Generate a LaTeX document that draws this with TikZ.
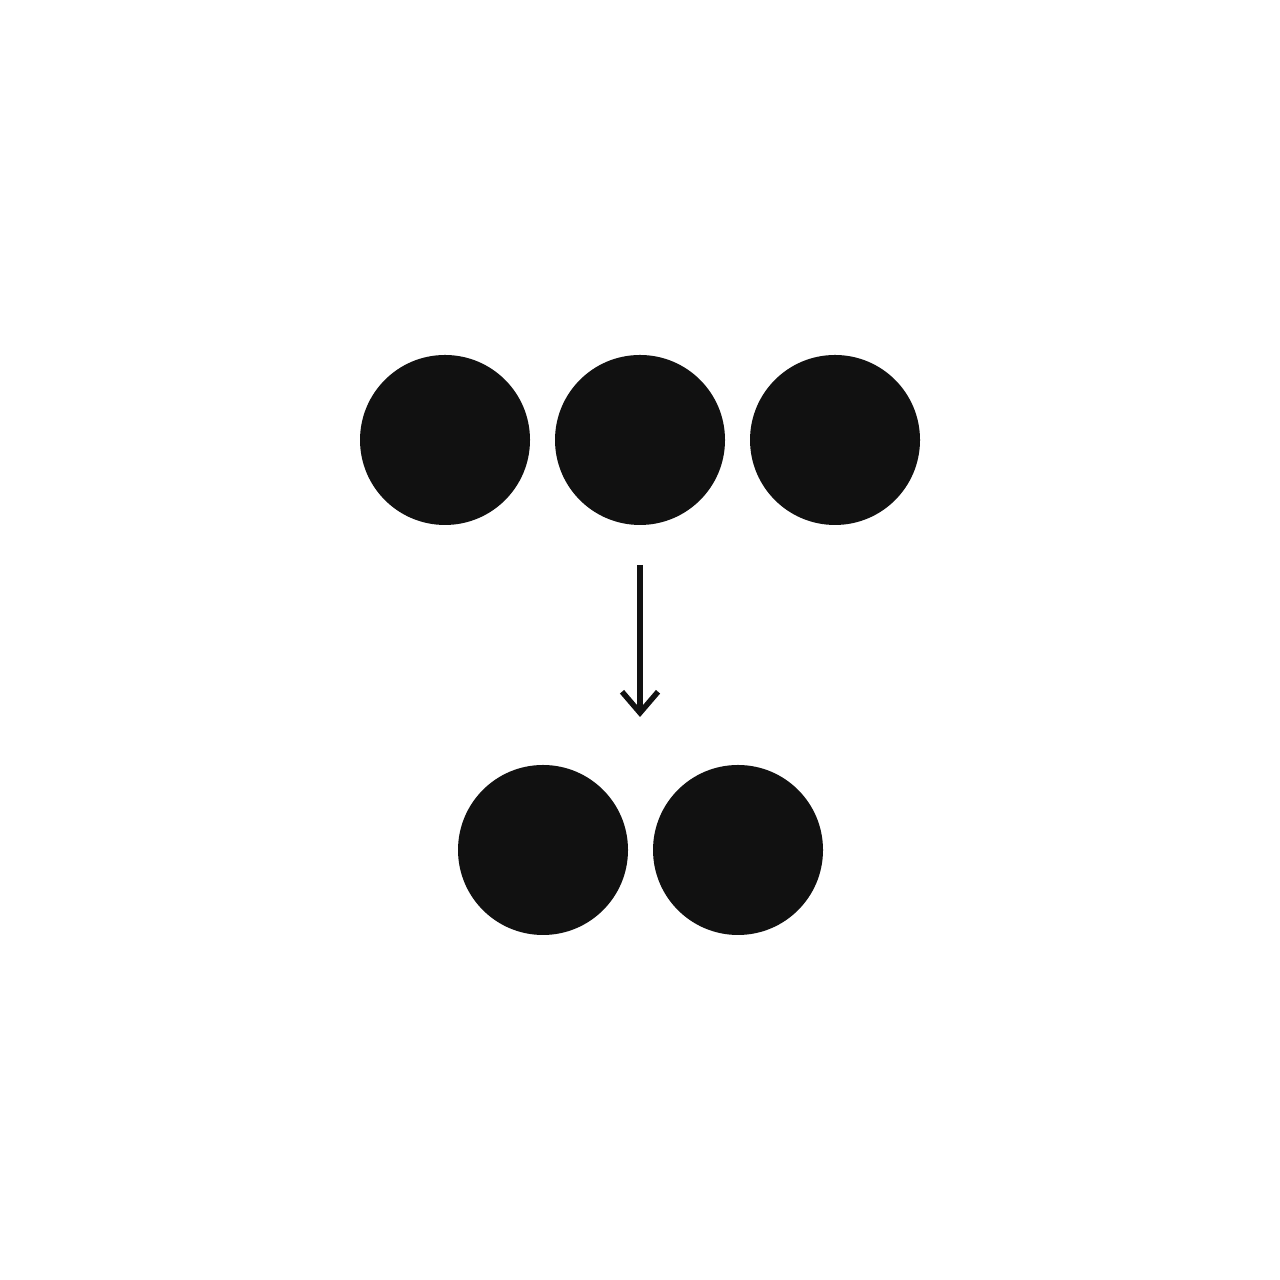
\documentclass[tikz,border=0pt]{standalone}
\usetikzlibrary{arrows.meta}
\definecolor{dotblack}{HTML}{111111}
\begin{document}
\begin{tikzpicture}[x=1cm,y=1cm]
		\begin{scope}[scale=1]
		
		\tikzstyle{mydot}=[circle,
		draw=none,
		fill=dotblack,
		inner sep=0pt,
		minimum size=17mm
		]
		\tikzstyle{myarrow}=[draw=dotblack,
		line width=0.55mm,
		-{Straight Barb[length=2.1mm,width=3.6mm]}
		]
		
		\useasboundingbox[fill=white] (0, 0) rectangle (12.8, 12.8);
		
		\coordinate (pa1) at (4.45, 8.4);
		\coordinate (pa2) at (6.4, 8.4);
		\coordinate (pa3) at (8.35, 8.4);
		
		\coordinate (pb1) at (5.43, 4.3);
		\coordinate (pb2) at (7.38, 4.3);
		
		\coordinate (t1) at (6.4, 7.15);
		\coordinate (t2) at (6.4, 5.63);
		
		
		\node[mydot] (a1) at (pa1) {};
		\node[mydot] (a2) at (pa2) {};
		\node[mydot] (a3) at (pa3) {};
		
		\node[mydot] (b1) at (pb1) {};
		\node[mydot] (b2) at (pb2) {};
		
		
		\draw[myarrow] (t1) -- (t2);
		
		\end{scope}
		\end{tikzpicture}
\end{document}
